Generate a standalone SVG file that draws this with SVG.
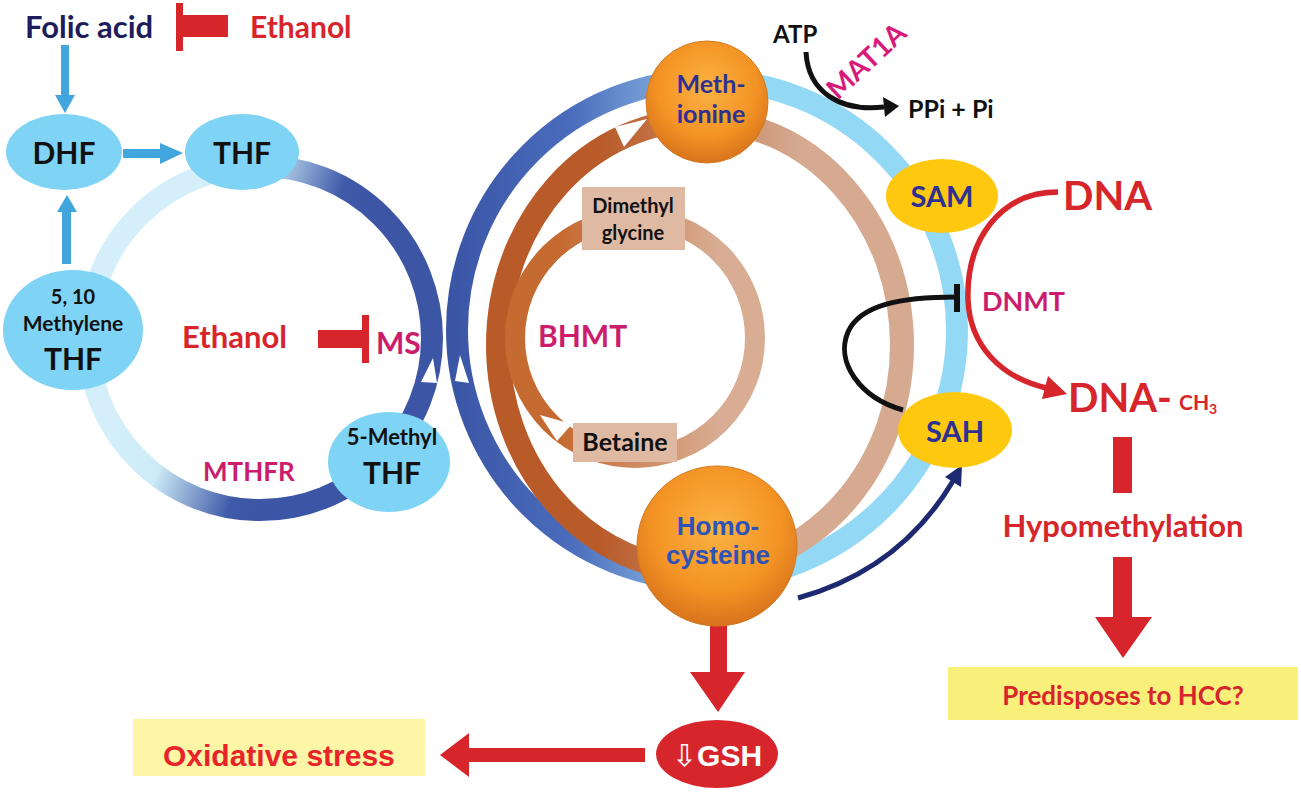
<svg xmlns="http://www.w3.org/2000/svg" width="1301" height="796" viewBox="0 0 1301 796">
<style>
.cal{font-family:Lato,'Liberation Sans',sans-serif;font-weight:700}
.ari{font-family:'Liberation Sans',Arial,sans-serif;font-weight:700}
.red{fill:#d6252b}
.mag{fill:#cc1c6c}
.nav{fill:#2e3192}
.blk{fill:#111}
.lb{fill:#7fd3f5}
.sb{fill:#41a5de}
.yel{fill:#fec80e}
.rf{fill:#d6252b}
.ring{fill:none}
.mid{text-anchor:middle}
</style>
<defs>
<linearGradient id="gFol" gradientUnits="userSpaceOnUse" x1="160" y1="300" x2="330" y2="360">
<stop offset="0" stop-color="#d4eff9"/><stop offset="0.3" stop-color="#cdebf7"/><stop offset="0.75" stop-color="#3f5aa8"/><stop offset="1" stop-color="#3c55a5"/>
</linearGradient>
<linearGradient id="gBlueL" gradientUnits="userSpaceOnUse" x1="450" y1="0" x2="690" y2="0">
<stop offset="0" stop-color="#3b55a5"/><stop offset="0.5" stop-color="#4a6cbc"/><stop offset="1" stop-color="#8ab8e4"/>
</linearGradient>
<linearGradient id="gBrown" gradientUnits="userSpaceOnUse" x1="600" y1="0" x2="800" y2="0">
<stop offset="0" stop-color="#b95b29"/><stop offset="1" stop-color="#d5aa91"/>
</linearGradient>
<linearGradient id="gInner" gradientUnits="userSpaceOnUse" x1="560" y1="0" x2="720" y2="0">
<stop offset="0" stop-color="#c56a30"/><stop offset="1" stop-color="#d8ad94"/>
</linearGradient>
<radialGradient id="gOr" cx="50%" cy="38%" r="62%">
<stop offset="0" stop-color="#fbb244"/><stop offset="0.65" stop-color="#f39324"/><stop offset="1" stop-color="#d8731c"/>
</radialGradient>
</defs>
<rect width="1301" height="796" fill="#fff"/>

<g id="connectors">
  <circle class="ring" cx="260" cy="338" r="172" stroke="url(#gFol)" stroke-width="22"/>
  <polygon points="433,358 421,382 437,383" fill="#fff"/>
  <path class="ring" d="M707,80 A250,250 0 0 0 707,580" stroke="url(#gBlueL)" stroke-width="22"/>
  <path class="ring" d="M707,80 A250,250 0 0 1 707,580" stroke="#93d9f6" stroke-width="22"/>
  <polygon points="460,355 455,381 469,383" fill="#fff"/>
  <ellipse class="ring" cx="700" cy="345" rx="202" ry="225" stroke="url(#gBrown)" stroke-width="24"/>
  <circle class="ring" cx="635" cy="338" r="120" stroke="url(#gInner)" stroke-width="20"/>
  <polygon points="615,127 647,119 624,147" fill="#fff"/>
  <polygon points="540,415 572,424 557,441" fill="#fff"/>

  <rect class="sb" x="61" y="45" width="8" height="51"/>
  <polygon class="sb" points="55,95 75,95 65,113"/>
  <rect class="sb" x="123" y="149" width="38" height="9"/>
  <polygon class="sb" points="160,143 160,164 183,153"/>
  <rect class="sb" x="62" y="211" width="9" height="53"/>
  <polygon class="sb" points="57,212 77,212 67,195"/>
  <rect class="rf" x="176" y="3" width="7" height="48"/>
  <rect class="rf" x="183" y="15" width="45" height="22"/>
  <rect class="rf" x="318" y="330" width="44" height="18"/>
  <rect class="rf" x="362" y="315" width="7" height="48"/>
  <path d="M806,52 C808,92 840,112 884,107" fill="none" stroke="#111" stroke-width="5"/>
  <polygon points="899,106 883,97 885,117" fill="#111"/>
  <path d="M1058,192 C1000,192 966,240 968,300 C970,345 1000,377 1046,388" fill="none" stroke="#d6252b" stroke-width="5.5"/>
  <polygon points="1067,394 1048,376 1042,399" fill="#d6252b"/>
  <path d="M903,410 C860,398 835,362 848,332 C860,305 900,297 957,297" fill="none" stroke="#111" stroke-width="5"/>
  <rect x="954" y="284" width="6" height="28" fill="#111"/>
  <path d="M798,598 Q900,570 953,481" fill="none" stroke="#1d2971" stroke-width="5"/>
  <polygon points="962,465 945,477 961,487" fill="#1d2971"/>
  <rect class="rf" x="710" y="620" width="17" height="53"/>
  <polygon class="rf" points="690,672 745,672 718,712"/>
  <rect class="rf" x="467" y="748" width="178" height="14"/>
  <polygon class="rf" points="469,733 469,777 440,755"/>
  <rect class="rf" x="1113" y="437" width="19" height="56"/>
  <rect class="rf" x="1113" y="557" width="19" height="61"/>
  <polygon class="rf" points="1095,617 1152,617 1123,658"/>
</g>

<g id="folic-acid"><text class="cal" x="25" y="38" font-size="31" fill="#1d1d5c">Folic acid</text></g>
<g id="ethanol-top"><text class="cal red" x="250" y="38" font-size="30">Ethanol</text></g>
<g id="dhf"><ellipse class="lb" cx="64" cy="152" rx="58" ry="38"/><text class="cal blk mid" x="64" y="164" font-size="30">DHF</text></g>
<g id="thf"><ellipse class="lb" cx="242" cy="152" rx="57" ry="38"/><text class="cal blk mid" x="242" y="164" font-size="30">THF</text></g>
<g id="methylene-thf"><ellipse class="lb" cx="73" cy="330" rx="70" ry="60"/>
<text class="cal blk mid" x="73" y="304" font-size="20">5, 10</text>
<text class="cal blk mid" x="73" y="331" font-size="21">Methylene</text>
<text class="cal blk mid" x="73" y="370" font-size="30">THF</text></g>
<g id="methyl-thf"><ellipse class="lb" cx="389" cy="462" rx="61" ry="50"/>
<text class="cal blk mid" x="392" y="445" font-size="22">5-Methyl</text>
<text class="cal blk mid" x="392" y="484" font-size="30">THF</text></g>
<g id="ethanol-ms"><text class="cal red" x="182" y="348" font-size="31">Ethanol</text><text class="cal mag" x="376" y="354" font-size="30">MS</text></g>
<g id="mthfr"><text class="cal mag" x="203" y="481" font-size="26">MTHFR</text></g>

<g id="methionine"><circle cx="707" cy="102" r="61" fill="url(#gOr)" stroke="#d27a22" stroke-width="1"/>
<text class="cal nav mid" x="711" y="93" font-size="25">Meth-</text>
<text class="cal nav mid" x="711" y="123" font-size="25">ionine</text></g>
<g id="homocysteine"><circle cx="717" cy="546" r="80" fill="url(#gOr)" stroke="#d27a22" stroke-width="1"/>
<text class="ari mid" x="718" y="535" font-size="26" fill="#2d52b8">Homo-</text>
<text class="ari mid" x="718" y="564" font-size="26" fill="#2d52b8">cysteine</text></g>
<g id="dimethylglycine"><rect x="582" y="187" width="103" height="63" fill="#e0b9a3"/>
<text class="cal blk mid" x="633" y="213" font-size="20">Dimethyl</text>
<text class="cal blk mid" x="633" y="240" font-size="20">glycine</text></g>
<g id="betaine"><rect x="573" y="423" width="104" height="39" fill="#e0b9a3"/>
<text class="cal blk mid" x="625" y="451" font-size="25">Betaine</text></g>
<g id="bhmt"><text class="cal mag" x="538" y="347" font-size="30">BHMT</text></g>

<g id="atp"><text class="cal blk" x="773" y="43" font-size="24">ATP</text></g>
<g id="mat1a"><text class="cal mid" transform="translate(873,68) rotate(-43)" font-size="28" fill="#d81b7a">MAT1A</text></g>
<g id="ppi"><text class="cal blk" x="908" y="118" font-size="25">PPi + Pi</text></g>
<g id="sam"><ellipse class="yel" cx="942" cy="196" rx="56" ry="37"/><text class="cal nav mid" x="942" y="207" font-size="29">SAM</text></g>
<g id="sah"><ellipse class="yel" cx="955" cy="430" rx="57" ry="38"/><text class="cal nav mid" x="955" y="442" font-size="29">SAH</text></g>
<g id="dna"><text class="cal red" x="1063" y="210" font-size="40">DNA</text></g>
<g id="dnmt"><text class="cal mag" x="982" y="311" font-size="27">DNMT</text></g>
<g id="dna-ch3"><text class="cal red" x="1068" y="412" font-size="40">DNA-</text><text class="cal red" x="1179" y="410" font-size="21">CH<tspan font-size="14" dy="4">3</tspan></text></g>
<g id="hypomethylation"><text class="cal red mid" x="1123" y="537" font-size="31">Hypomethylation</text></g>
<g id="hcc"><rect x="948" y="667" width="350" height="53" fill="#f9f07c"/><text class="cal red mid" x="1123" y="705" font-size="26">Predisposes to HCC?</text></g>
<g id="gsh"><ellipse class="rf" cx="717" cy="754" rx="61" ry="34"/>
<text class="ari mid" x="717" y="766" font-size="30" fill="#fff"><tspan font-family="'DejaVu Sans',sans-serif" font-weight="400" font-size="30">⇩</tspan>GSH</text></g>
<g id="oxidative-stress"><rect x="133" y="719" width="292" height="57" fill="#fcf6a6"/><text class="ari" x="163" y="766" font-size="30" fill="#e8232a">Oxidative stress</text></g>
</svg>
